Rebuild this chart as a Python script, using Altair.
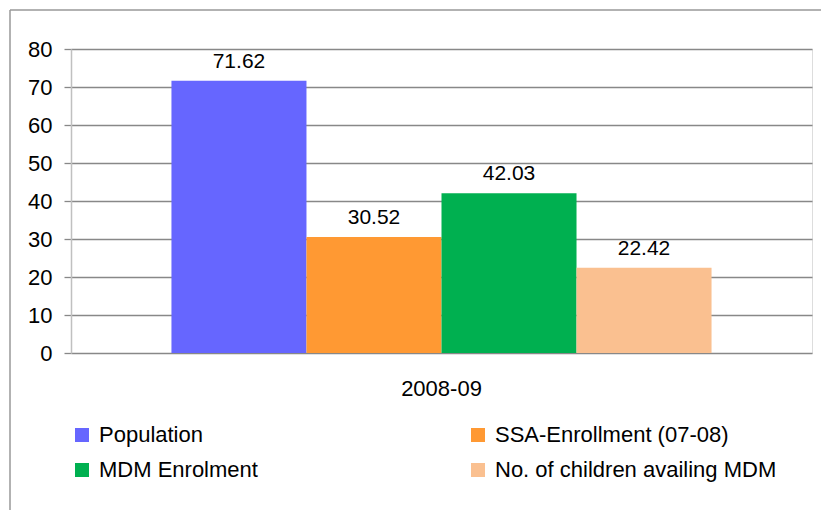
import altair as alt
import pandas as pd

years = ["2008-09"]
series = ["Population", "SSA-Enrollment (07-08)", "MDM Enrolment", "No. of children availing MDM"]
values = [71.62, 30.52, 42.03, 22.42]
colors = ["#6666FF", "#FF9933", "#00B050", "#FAC090"]
y_ticks = [0, 10, 20, 30, 40, 50, 60, 70, 80]

# legend is filled column by column: Population, MDM / SSA, No. of children
legend_order = [series[0], series[2], series[1], series[3]]
legend_colors = [colors[0], colors[2], colors[1], colors[3]]

df = pd.DataFrame({"year": [years[0]] * len(series), "series": series, "value": values})

FONT = "Liberation Sans"

x_axis = alt.Axis(labelAngle=0, domain=False, ticks=False, labelFontSize=22,
                  labelFont=FONT, labelColor="#000000", labelPadding=25)
y_axis = alt.Axis(values=y_ticks, tickCount=9, labelOverlap=False, grid=True,
                  gridColor="#888888", gridWidth=1.3,
                  domainColor="#C0C0C0", domainWidth=1.5,
                  tickColor="#888888", tickSize=7, tickWidth=1.3,
                  labelFontSize=22, labelFont=FONT, labelColor="#000000",
                  labelPadding=12)
x_scale = alt.Scale(paddingInner=0, paddingOuter=0.186)
y_scale = alt.Scale(domain=[0, 80], nice=False)
xo_scale = alt.Scale(paddingInner=0, paddingOuter=0)

bars = alt.Chart(df).mark_bar().encode(
    x=alt.X("year:N", title=None, scale=x_scale, axis=x_axis),
    xOffset=alt.XOffset("series:N", sort=series, scale=xo_scale),
    y=alt.Y("value:Q", title=None, scale=y_scale, axis=y_axis),
    color=alt.Color("series:N", scale=alt.Scale(domain=legend_order, range=legend_colors),
                    legend=alt.Legend(title=None, orient="none", legendX=0, legendY=375,
                                      columns=2, columnPadding=209, rowPadding=13,
                                      symbolType="square", symbolSize=196, symbolStrokeWidth=0,
                                      labelFontSize=22, labelFont=FONT, labelColor="#000000",
                                      labelOffset=6, padding=0, labelLimit=400)),
)

labels = alt.Chart(df).mark_text(baseline="bottom", dy=-9, fontSize=21, font=FONT, color="#000000").encode(
    x=alt.X("year:N", title=None, scale=x_scale, axis=x_axis),
    xOffset=alt.XOffset("series:N", sort=series, scale=xo_scale),
    y=alt.Y("value:Q", title=None, scale=y_scale, axis=y_axis),
    text=alt.Text("value:Q", format=".2f"),
)

border_df = pd.DataFrame({"k": [0]})
left_border = alt.Chart(border_df).mark_rule(color="#999999", strokeWidth=1.5).encode(
    x=alt.value(-61), y=alt.value(-39), y2=alt.value(470))
top_border = alt.Chart(border_df).mark_rule(color="#999999", strokeWidth=1.5).encode(
    x=alt.value(-61), x2=alt.value(760), y=alt.value(-39))

chart = alt.layer(bars, labels, left_border, top_border).properties(
    width=741, height=304,
    autosize=alt.AutoSizeParams(type="none"),
    padding={"left": 71, "top": 49, "right": 9, "bottom": 157},
).configure_view(stroke=None).configure(background="#FFFFFF")

chart.save("out.html", embed_options={"renderer": "svg", "actions": False})
